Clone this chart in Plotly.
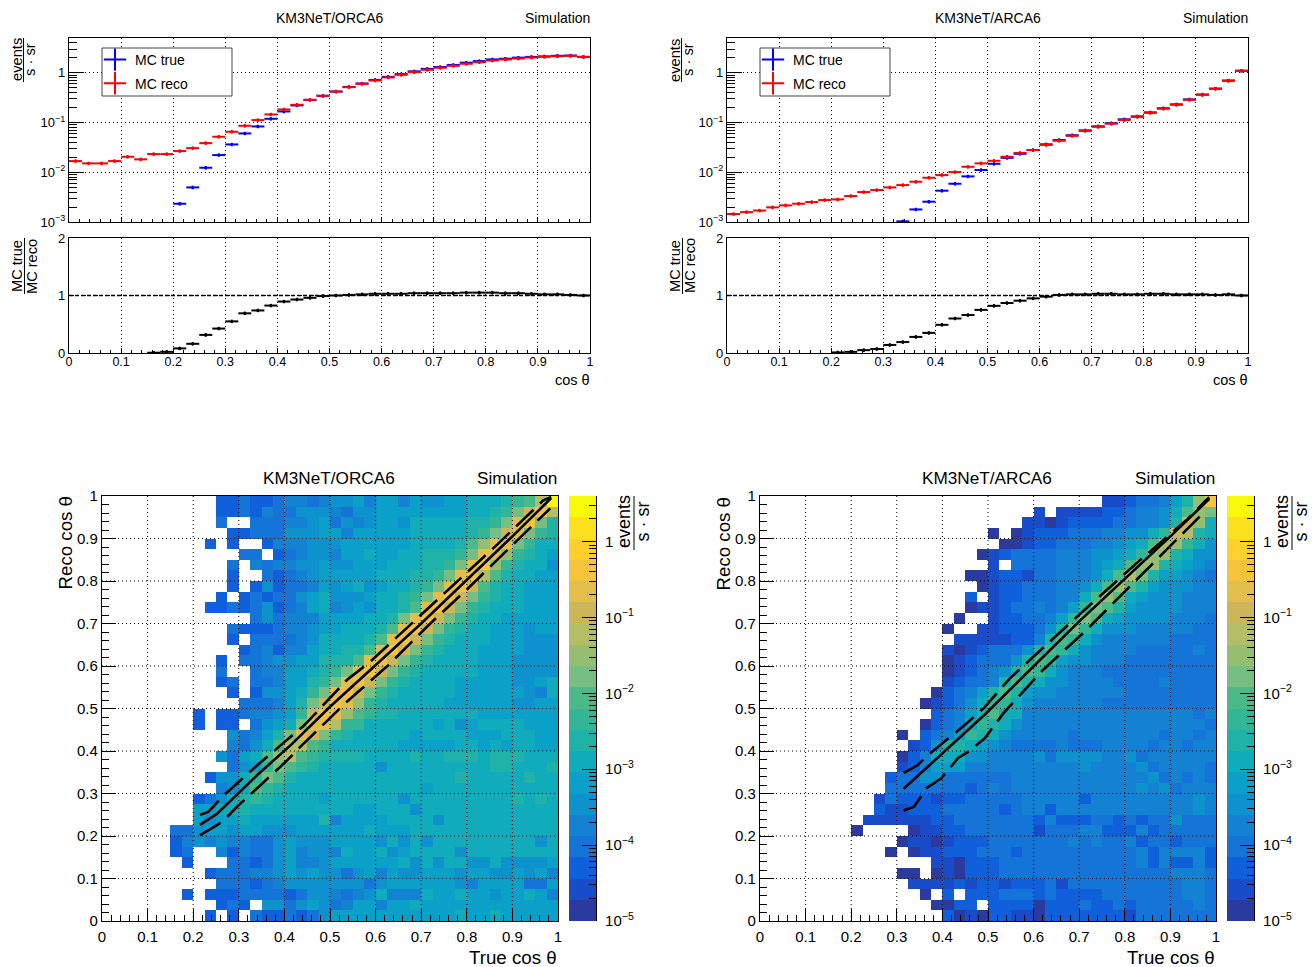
import math
import plotly.graph_objects as go

W, H = 1315, 967
FONT = "Liberation Sans"

COS_BINS = [i / 40 for i in range(41)]
BIN_CENTERS = [(i + 0.5) / 40 for i in range(40)]
TICKS_01 = [i / 10 for i in range(11)]
TICK_TEXT_01 = ["0", "0.1", "0.2", "0.3", "0.4", "0.5", "0.6", "0.7", "0.8", "0.9", "1"]
LOG_TICKS = [1e-3, 1e-2, 1e-1, 1]
LOG_TEXT = ["10<sup>\u22123</sup>", "10<sup>\u22122</sup>", "10<sup>\u22121</sup>", "1"]
CB_TICKS = [1e-5, 1e-4, 1e-3, 1e-2, 1e-1, 1]
CB_TEXT = ["10<sup>\u22125</sup>", "10<sup>\u22124</sup>", "10<sup>\u22123</sup>",
           "10<sup>\u22122</sup>", "10<sup>\u22121</sup>", "1"]

ORCA_RECO = [.0168, .0151, .0151, .0168, .0205, .0182, .0232, .0232, .0267, .0306,
             .0386, .0518, .0652, .0861, .112, .1455, .1834, .2276, .2868, .345,
             .42, .515, .60, .70, .806, .912, 1.03, 1.15, 1.26, 1.38,
             1.52, 1.64, 1.77, 1.85, 1.94, 2.03, 2.1, 2.16, 2.2, 2.09]
ORCA_TRUE = [None] * 8 + [.00233, .00496, .01234, .0222, .0363, .0604, .0835, .119,
             .167, .2206, .285, .345,
             .42, .52, .61, .72, .83, .94, 1.07, 1.2, 1.31, 1.44,
             1.6, 1.72, 1.86, 1.92, 2.02, 2.09, 2.14, 2.2, 2.22, 2.09]
ORCA_RATIO = [None] * 6 + [.005, .02, .08, .16, .315, .425, .55, .69, .74, .825, .895, .93, .96, .99,
              1.0, 1.01, 1.02, 1.03, 1.03, 1.03, 1.04, 1.04, 1.04, 1.04,
              1.05, 1.05, 1.05, 1.04, 1.04, 1.03, 1.02, 1.02, 1.01, 1.0]

ARCA_RECO = [.00145, .00158, .0017, .00197, .00216, .00233, .00252, .00276, .00285, .00333,
             .004, .00439, .00496, .00553, .00645, .00776, .00879, .0101, .0129, .0151,
             .017, .0205, .0245, .028, .0355, .043, .054, .068, .082, .095,
             .113, .13, .157, .19, .228, .286, .36, .476, .69, 1.1]
ARCA_TRUE = [None] * 13 + [.00103, .00179, .00256, .00426, .00588, .00826, .0111,
             .0148, .0195, .0235, .028, .0365, .0445, .0555, .0695, .084, .097,
             .116, .133, .16, .194, .232, .292, .366, .482, .70, 1.1]
ARCA_RATIO = [None] * 8 + [.01, .02, .05, .07, .14, .19, .28, .35, .49, .60, .66, .75,
              .82, .87, .91, .95, .98, 1.01, 1.02, 1.02, 1.03, 1.03,
              1.02, 1.02, 1.03, 1.03, 1.02, 1.02, 1.02, 1.01, 1.02, 1.0]

# One character per cell: colour band 0-19 in base 20, "." is an empty cell. Rows run from cos=1 down to cos=0.
ORCA_BANDS = [
    "..........2232234434" "55646646556677789adj",
    "..........2232433555" "4355666666667789begd",
    "..........3..3334456" "354566577777889bfgb8",
    "...........223335556" "64666667777789befb98",
    ".........2.2..244455" "566666677778acffb977",
    "............33.23455" "466766778889bffc9876",
    "...........3.4344556" "55666777889bfgc98775",
    "...........2..323456" "6666777889bfgda87766",
    "...........2.2523346" "567567789bfgea877666",
    "..........2.23233567" "55567789bfgeb9877666",
    ".........22323523467" "4565778afgeb98777666",
    ".............3534446" "666778bfgeb987766666",
    "...........322234456" "67778afgeb9877666566",
    "...........2.3333457" "7778afgeb98777666555",
    "............23424467" "788afgeb987776666555",
    "..........2.33455668" "88afgeb9877776665555",
    "..........3..3446678" "9bfgeb98777776665555",
    "..........23.3346689" "bfgeb987777666665567",
    "...........2.255679b" "fgeb9877777666666547",
    "............333468be" "gfc98777776666665566",
    "........2.22344569eg" "fca98877777776666666",
    "........2.22.3567bff" "d9977777767567777666",
    "...........53468bfeb" "98777776777766677766",
    "...........4357adda9" "77777766666776767766",
    "..........5367acda98" "88877778778887888777",
    "...........3569ba987" "77775777777777887778",
    ".........25579ba8777" "77777777777877777877",
    "..........457a987777" "77777777677777777777",
    "........235789877776" "77777757777777778787",
    "........667787777777" "77667775777777777777",
    "........656676666668" "46666777757777777777",
    "......33566566555666" "66676667777777777777",
    "......24545443356555" "66665757577777777757",
    "......23..4243356455" "47667567777577777777",
    ".......2...332356445" "66666675757755755556",
    ".........23334456565" "53564655666566556564",
    "..........3332345555" "55535666666546666336",
    ".......2.22233332355" "43457444766766566764",
    "..........232.553565" "34664667666666666666",
    ".........2.2.3223235" "66666666666766766666",
]
ARCA_BANDS = [
    "...................." "..........11233468cg",
    "...................." "....1.11112234457acb",
    "...................." "...11012222334458ec7",
    "...................." "0.01222333445579ed87",
    "...................." ".0012233344567adc975",
    "...................0" "12333344455679cc8755",
    "...................." "1.3333444567acc87654",
    "..................00" "12213344457adb866543",
    "...................0" "1223334457aca8655544",
    "..................2." "122333447aca76555444",
    "..................01" "123343469ba865555444",
    ".................0.." "12233469ba7655554443",
    "................0..1" "1222358b975554444433",
    ".................111" "112248a9754444443333",
    "................1012" "33358a97544443333343",
    "................0123" "3358a965544433333333",
    "................0123" "458a9754443333333333",
    "................1233" "48a87554444333343333",
    "...............02346" "8a865544444433333333",
    "..............012357" "99754444443333333333",
    "...............23468" "a7744444444444444434",
    "..............023479" "87544444444444444443",
    "............0.234698" "75444443444444434434",
    ".............1258876" "54333343334444344344",
    "............02477755" "44445355554453444444",
    "............12466644" "44444444544445344443",
    "...........233553333" "33444444444444534343",
    "...........333333323" "43444444444445453444",
    "..........1322212233" "33344444244444444454",
    "..........2112223333" "32344244444444444454",
    ".........11111122333" "33332422233232335333",
    "........0....0112233" "33331333442224233333",
    "............01101222" "33333334343342332333",
    "...........0.0112223" "33233333333334244442",
    "...............11022" "23333333333334242242",
    "............00.01022" "23333333333333334443",
    ".............1111212" "21222313333333333443",
    "..............0.2.22" "23332322223333333443",
    "...............0022." "22220222322323333343",
    "................2010" "22110222222213333333",
]
BAND_COLORS = ["#2b3a9e", "#184cc8", "#1060dc", "#1474d8", "#1482d2", "#0e92ce", "#0aa0c8", "#10acbc",
               "#1eb2a8", "#32b696", "#4cba88", "#76be82", "#96be70", "#b4be64", "#cdb65a", "#e4be4b",
               "#f5c43c", "#ffd02c", "#fae01e", "#f8f80a"]

ORCA_C_X = [.215, .253, .341, .415, .5, .7, .9, .985]
ORCA_C_Y = [.226, .253, .344, .415, .504, .70, .905, .995]
ORCA_U_X = [.215, .232, .245, .264, .341, .396, .444, .537, .588, .77, .866, .968, .985]
ORCA_U_Y = [.25, .256, .27, .293, .367, .418, .461, .567, .61, .79, .885, .99, .998]
ORCA_L_X = [.215, .253, .268, .30, .348, .407, .437, .537, .624, .72, .80, .895, .983]
ORCA_L_Y = [.202, .226, .238, .273, .32, .379, .412, .516, .598, .70, .78, .88, .971]
ARCA_C_X = [.315, .36, .419, .493, .7, .9, .985]
ARCA_C_Y = [.311, .355, .414, .486, .705, .905, .993]
ARCA_U_X = [.315, .346, .368, .404, .449, .49, .548, .687, .826, .936, .985]
ARCA_U_Y = [.348, .367, .39, .421, .461, .5, .571, .708, .842, .944, .997]
ARCA_L_X = [.315, .338, .353, .364, .397, .412, .434, .456, .493, .534, .62, .716, .833, .972]
ARCA_L_Y = [.26, .269, .293, .312, .335, .355, .383, .398, .43, .489, .59, .685, .81, .96]

NBANDS = 20
LOG_MIN, LOG_MAX = -5.0, 0.6
STEP = (LOG_MAX - LOG_MIN) / NBANDS


def band_log(ch):
    return None if ch == "." else LOG_MIN + (int(ch, 20) + 0.5) * STEP


def decode(rows):
    grid = [[band_log(c) for c in r.ljust(40, ".")[:40]] for r in rows]
    return grid[::-1]


COLORSCALE = []
for i, c in enumerate(BAND_COLORS):
    COLORSCALE += [[i / NBANDS, c], [(i + 1) / NBANDS, c]]


def px(x):
    return x / W


def py(y):
    return 1 - y / H


fig = go.Figure()
layout = dict(
    width=W, height=H, margin=dict(l=0, r=0, t=0, b=0, autoexpand=False),
    paper_bgcolor="white", plot_bgcolor="white",
    font=dict(family=FONT, color="black", size=12),
    annotations=[], shapes=[], showlegend=True,
)
GRID = dict(showgrid=True, gridcolor="black", griddash="1px,3px", gridwidth=1, zeroline=False)
LINE = dict(showline=True, linecolor="black", linewidth=1.2, mirror=True, ticks="inside", tickcolor="black", tickwidth=1)


def ax(name, left, right, top, bottom, anchor, **kw):
    layout[name] = dict(anchor=anchor, **kw)
    if name.startswith("x"):
        layout[name]["domain"] = [px(left), px(right)]
    else:
        layout[name]["domain"] = [py(bottom), py(top)]


def text(x, y, s, size, xanchor="center", yanchor="middle", angle=0):
    layout["annotations"].append(dict(xref="paper", yref="paper", x=px(x), y=py(y), text=s, showarrow=False,
                                      font=dict(size=size, family=FONT, color="black"), xanchor=xanchor,
                                      yanchor=yanchor, textangle=angle))


def frac_vertical(xa, xbar, xb, yc, num, den, size, y0, y1):
    text(xa, yc, num, size, angle=-90)
    text(xb, yc, den, size, angle=-90)
    layout["shapes"].append(dict(type="line", xref="paper", yref="paper", x0=px(xbar), x1=px(xbar),
                                 y0=py(y0), y1=py(y1), line=dict(color="black", width=1)))


def panel(idx, dx, label, reco, true, ratio, bands, cx, cy, ux, uy, lx, ly):
    a, b, c, d = idx, idx + 1, idx + 2, idx + 3
    sfx = lambda n: "" if n == 1 else str(n)
    # distribution
    xl, xr = 69 + dx, 590 + dx
    ax(f"xaxis{sfx(a)}", xl, xr, 0, 0, f"y{sfx(a)}", range=[0, 1], tickvals=TICKS_01, showticklabels=False,
       ticklen=5, minor=dict(ticks="inside", dtick=0.02, ticklen=3, tickcolor="black", showgrid=False), **GRID, **LINE)
    ax(f"yaxis{sfx(a)}", 0, 0, 38, 222, f"x{sfx(a)}", type="log", range=[-3, 0.70], tickvals=LOG_TICKS, ticktext=LOG_TEXT,
       ticklen=15, minor=dict(ticks="inside", dtick="D1", ticklen=8, tickcolor="black", showgrid=False),
       tickfont=dict(size=13), **GRID, **LINE)
    leg = "legend" if idx == 1 else "legend2"
    for series, color, name in ((true, "#0000ff", "MC true"), (reco, "#ff0000", "MC reco")):
        errs = [None if v is None else v * 0.08 for v in series]
        fig.add_trace(go.Scatter(x=BIN_CENTERS, y=series, mode="markers", showlegend=False,
                                 marker=dict(size=3, color=color),
                                 error_x=dict(type="constant", value=0.0125, width=0, thickness=2, color=color),
                                 error_y=dict(type="data", array=errs, width=0, thickness=2, color=color),
                                 xaxis=f"x{sfx(a)}", yaxis=f"y{sfx(a)}"))
        fig.add_trace(go.Scatter(x=[None], y=[None], mode="markers", name=name, legendgroup=name,
                                 marker=dict(symbol="cross-thin", size=16, line=dict(width=2, color=color), color=color),
                                 legend=leg, xaxis=f"x{sfx(a)}", yaxis=f"y{sfx(a)}"))
    layout[leg] = dict(x=px(95 + dx), y=py(44), xanchor="left", yanchor="top", bgcolor="rgba(0,0,0,0)", borderwidth=0,
                       font=dict(size=14, family=FONT), itemsizing="trace", tracegroupgap=2.5)
    layout["shapes"].append(dict(type="rect", xref="paper", yref="paper", x0=px(102 + dx), x1=px(232 + dx), y0=py(48), y1=py(96),
                                 layer="above", fillcolor="white", line=dict(color="#444", width=1)))
    text((xl + xr) / 2, 18, label, 14)
    text(xr + 2, 18, "Simulation", 14, xanchor="right")
    frac_vertical(17 + dx, 23.5 + dx, 30 + dx, 60, "events", "s \u00b7 sr", 14.7, 38, 82)

    # ratio
    ax(f"xaxis{sfx(b)}", xl, xr, 0, 0, f"y{sfx(b)}", range=[0, 1], tickvals=TICKS_01, ticktext=TICK_TEXT_01, ticklen=5,
       minor=dict(ticks="inside", dtick=0.02, ticklen=3, tickcolor="black", showgrid=False),
       tickfont=dict(size=12.5), ticklabelstandoff=-3, **GRID, **LINE)
    ax(f"yaxis{sfx(b)}", 0, 0, 238, 353, f"x{sfx(b)}", range=[0, 2], tickvals=[0, 1, 2], ticktext=["0", "1", "2"], ticklen=5,
       tickfont=dict(size=13), **GRID, **LINE)
    errs = [None if v is None else 0.03 for v in ratio]
    fig.add_trace(go.Scatter(x=BIN_CENTERS, y=ratio, mode="markers", showlegend=False, marker=dict(size=3, color="black"),
                             error_x=dict(type="constant", value=0.0125, width=0, thickness=2, color="black"),
                             error_y=dict(type="data", array=errs, width=0, thickness=2, color="black"),
                             xaxis=f"x{sfx(b)}", yaxis=f"y{sfx(b)}"))
    layout["shapes"].append(dict(type="line", xref=f"x{sfx(b)}", yref=f"y{sfx(b)}", x0=0, x1=1, y0=1, y1=1,
                                 line=dict(color="black", width=1.4, dash="4px,2px")))
    text(xr + 2, 380, "cos \u03b8", 14.5, xanchor="right")
    frac_vertical(17 + dx, 24.5 + dx, 32 + dx, 266, "MC true", "MC reco", 14.6, 238, 294)

    # 2D
    xl2, xr2 = 102 + dx, 558 + dx
    common = dict(range=[0, 1], tickvals=TICKS_01, ticktext=TICK_TEXT_01, showgrid=False, zeroline=False,
                  tickfont=dict(size=15), **LINE)
    ax(f"xaxis{sfx(c)}", xl2, xr2, 0, 0, f"y{sfx(c)}", ticklen=12, ticklabelstandoff=2,
       minor=dict(ticks="inside", dtick=0.02, ticklen=6, tickcolor="black"), **common)
    ax(f"yaxis{sfx(c)}", 0, 0, 496, 921, f"x{sfx(c)}", ticklen=14,
       minor=dict(ticks="inside", dtick=0.02, ticklen=7, tickcolor="black"), **common)
    fig.add_trace(go.Heatmap(x=COS_BINS, y=COS_BINS, z=decode(bands), colorscale=COLORSCALE, zmin=LOG_MIN, zmax=LOG_MAX,
                             showscale=False, xaxis=f"x{sfx(c)}", yaxis=f"y{sfx(c)}", hoverongaps=False))
    for xs, ys, dash in ((cx, cy, "solid"), (ux, uy, "24px,9px"), (lx, ly, "24px,9px")):
        fig.add_trace(go.Scatter(x=xs, y=ys, mode="lines", showlegend=False, line=dict(color="black", width=2.6, dash=dash),
                                 xaxis=f"x{sfx(c)}", yaxis=f"y{sfx(c)}"))
    for t in TICKS_01[1:-1]:
        layout["shapes"].append(dict(type="line", xref=f"x{sfx(c)}", yref=f"y{sfx(c)}", x0=t, x1=t, y0=0, y1=1, layer="above",
                                     line=dict(color="black", width=1, dash="1px,3px")))
        layout["shapes"].append(dict(type="line", xref=f"x{sfx(c)}", yref=f"y{sfx(c)}", x0=0, x1=1, y0=t, y1=t, layer="above",
                                     line=dict(color="black", width=1, dash="1px,3px")))
    text(329 + dx, 478, label, 17.2)
    text(xr2 + 1, 478, "Simulation", 17.2, xanchor="right")
    text(xr2 + 1, 957, "True cos \u03b8", 18.7, xanchor="right")
    text(65 + dx, 495, "Reco cos \u03b8", 18.7, yanchor="top", angle=-90)

    # colour key
    ax(f"xaxis{sfx(d)}", 569 + dx, 596 + dx, 0, 0, f"y{sfx(d)}", range=[0, 1], visible=False)
    ax(f"yaxis{sfx(d)}", 0, 0, 496, 921, f"x{sfx(d)}", type="log", range=[LOG_MIN, LOG_MAX], side="right", tickvals=CB_TICKS,
       ticktext=CB_TEXT, ticks="inside", ticklen=14, tickcolor="black", showgrid=False, zeroline=False, showline=True,
       linecolor="black", linewidth=1.2, tickfont=dict(size=15), ticklabelstandoff=5,
       minor=dict(ticks="inside", dtick="D1", ticklen=7, tickcolor="black", showgrid=False))
    edges = [10 ** (LOG_MIN + i * STEP) for i in range(NBANDS + 1)]
    fig.add_trace(go.Heatmap(x=[0, 1], y=edges, z=[[LOG_MIN + (i + 0.5) * STEP] for i in range(NBANDS)], colorscale=COLORSCALE,
                             zmin=LOG_MIN, zmax=LOG_MAX, showscale=False, hoverinfo="skip",
                             xaxis=f"x{sfx(d)}", yaxis=f"y{sfx(d)}"))
    frac_vertical(624 + dx, 634 + dx, 642.5 + dx, 522, "events", "s \u00b7 sr", 18, 496, 550)


panel(1, 0, "KM3NeT/ORCA6", ORCA_RECO, ORCA_TRUE, ORCA_RATIO, ORCA_BANDS, ORCA_C_X, ORCA_C_Y, ORCA_U_X, ORCA_U_Y, ORCA_L_X, ORCA_L_Y)
panel(5, 658, "KM3NeT/ARCA6", ARCA_RECO, ARCA_TRUE, ARCA_RATIO, ARCA_BANDS, ARCA_C_X, ARCA_C_Y, ARCA_U_X, ARCA_U_Y, ARCA_L_X, ARCA_L_Y)

fig.update_layout(**layout)
fig.write_html("out.html", post_script="document.body.style.margin='0';", config=dict(displayModeBar=False))
